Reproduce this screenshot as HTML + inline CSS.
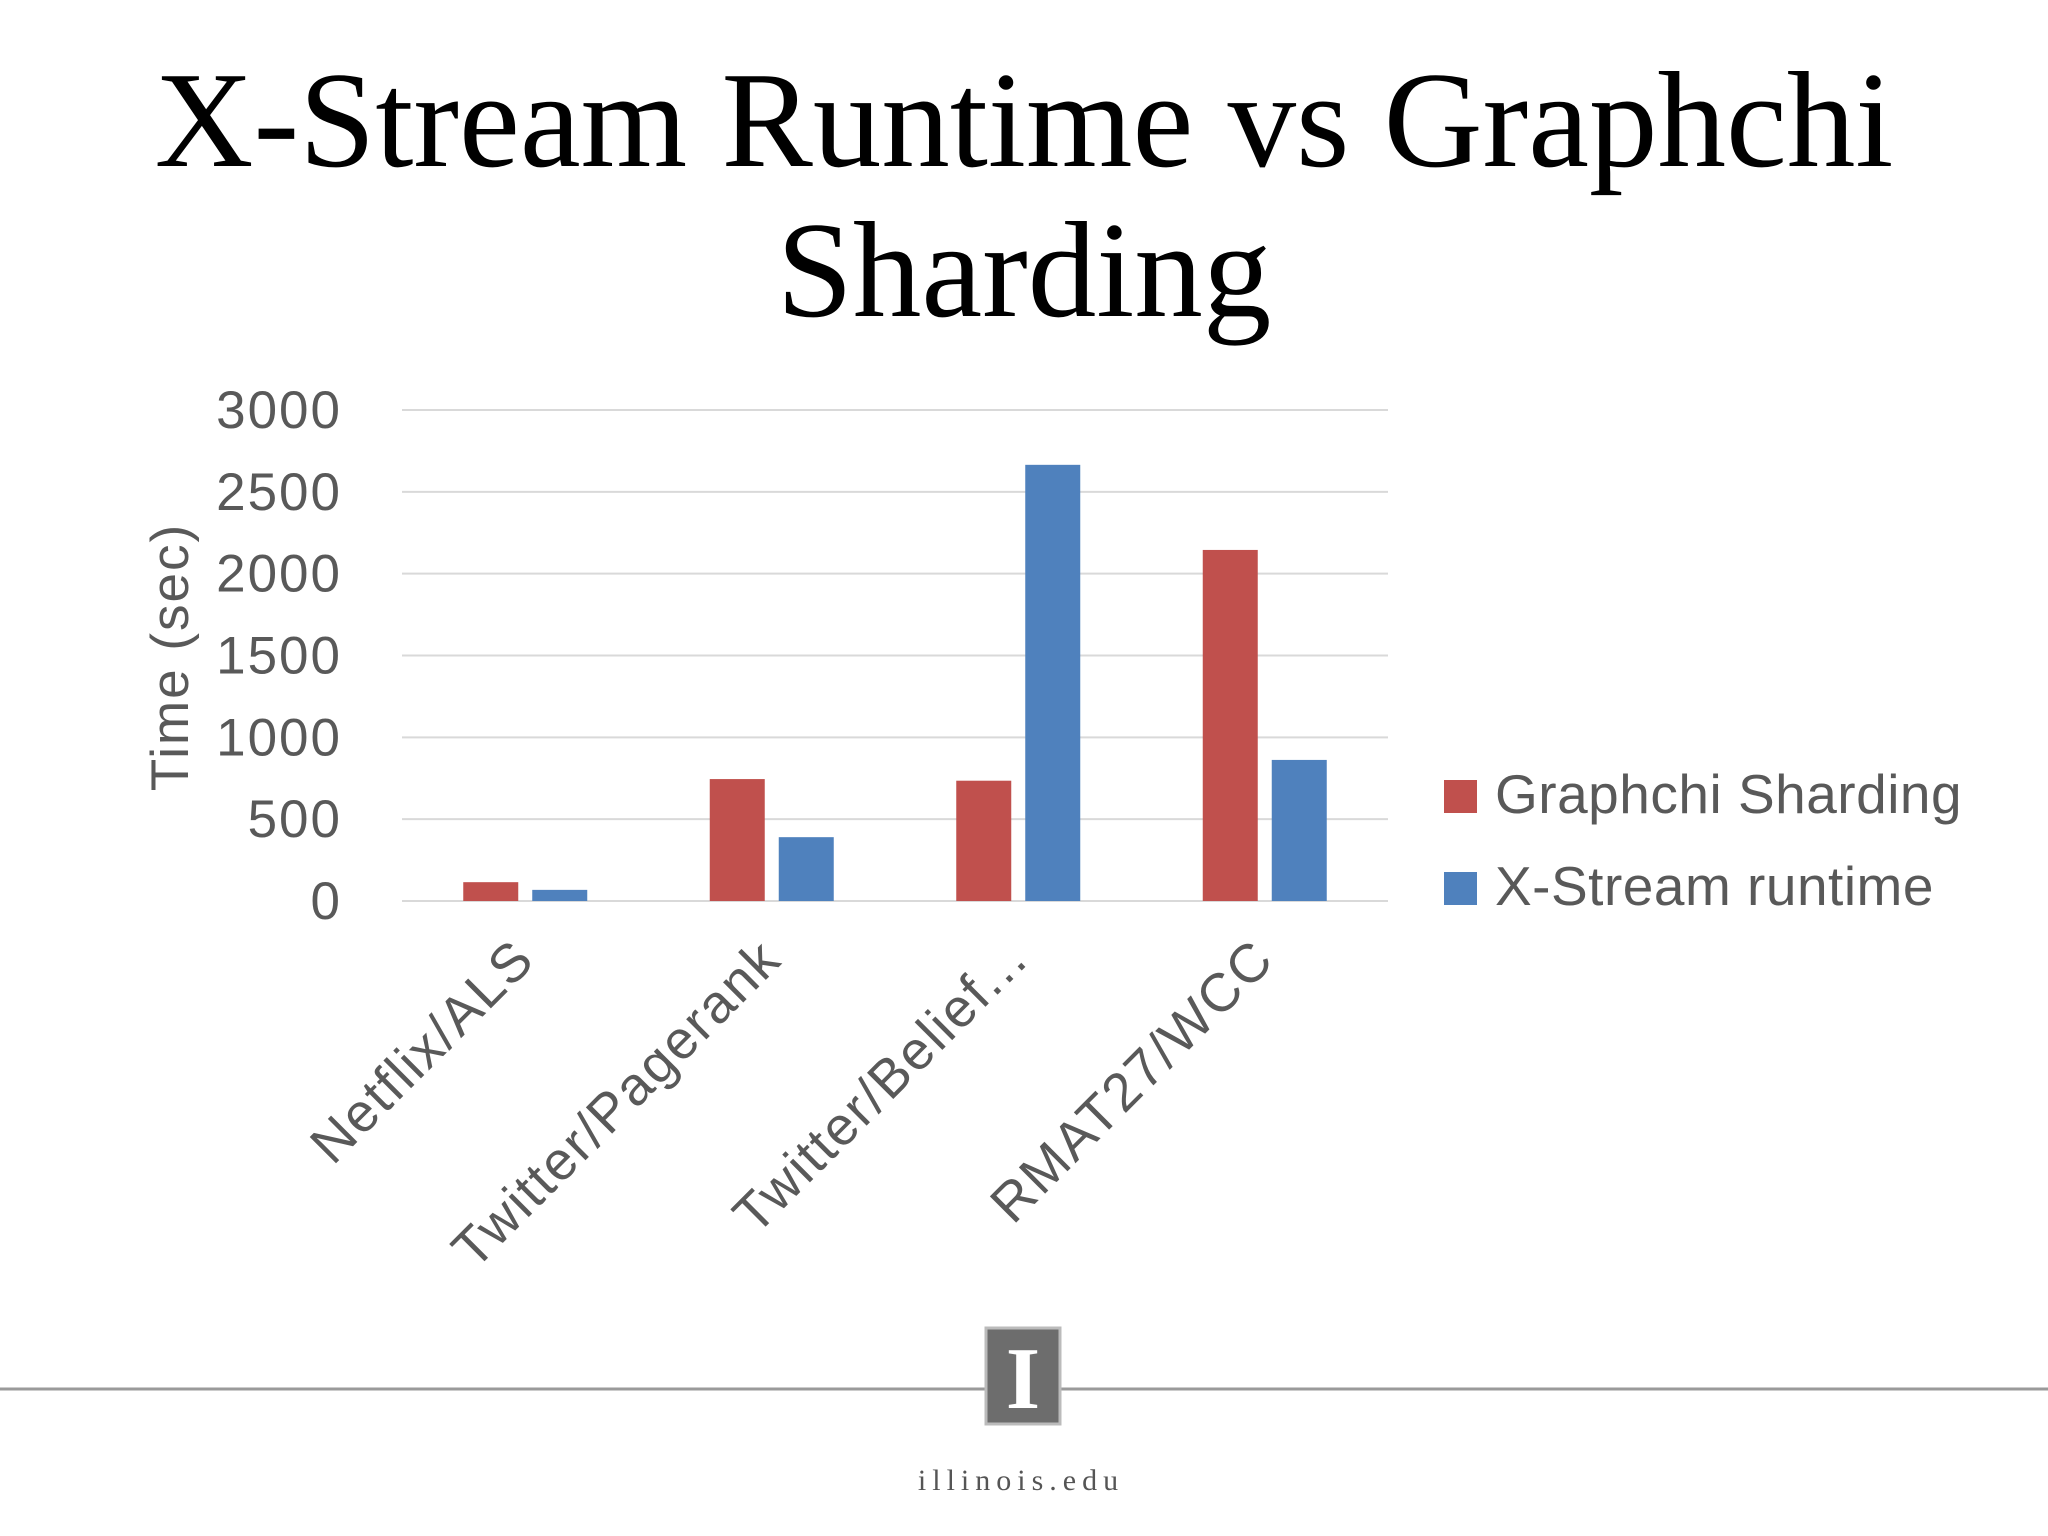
<!DOCTYPE html>
<html><head><meta charset="utf-8"><style>
html,body{margin:0;padding:0;background:#fff;}
#root{position:relative;width:2048px;height:1536px;overflow:hidden;background:#fff;}
.title{position:absolute;left:0;width:2048px;text-align:center;font-family:"Liberation Serif",serif;font-size:137px;color:#000;line-height:1;}
</style></head><body>
<div id="root">
<div class="title" style="top:52px">X-Stream Runtime vs Graphchi</div>
<div class="title" style="top:202px">Sharding</div>
<svg id="chart" width="2048" height="1536" style="position:absolute;left:0;top:0"></svg>
</div>
<script>
const categories=["Netflix/ALS","Twitter/Pagerank","Twitter/Belief...","RMAT27/WCC"];
const graphchi=[115,745,735,2145];
const xstream=[68,390,2665,862];
const ticks=[0,500,1000,1500,2000,2500,3000];
const seriesNames=["Graphchi Sharding","X-Stream runtime"];
const colors=["#c0504d","#4f81bd"];
const NS="http://www.w3.org/2000/svg";
const svg=document.getElementById('chart');
const x0=402,x1=1388,yTop=410,yBot=901,vmax=3000;
const y=v=>yBot-(v/vmax)*(yBot-yTop);
const gw=(x1-x0)/categories.length;
function mk(t,a){const e=document.createElementNS(NS,t);for(const k in a)e.setAttribute(k,a[k]);svg.appendChild(e);return e;}
ticks.forEach((t,i)=>{
 const l=mk('line',{x1:x0,x2:x1,y1:y(t),y2:y(t),stroke:'#d9d9d9','stroke-width':2});
 
 
 const tx=mk('text',{x:342,y:y(t)+18,'text-anchor':'end','font-family':'Liberation Sans, sans-serif','font-size':53,'letter-spacing':'2',fill:'#595959'});
 tx.textContent=t;
 
 
});
const bw=55;
categories.forEach((c,i)=>{
 const cx=x0+gw*(i+0.5);
 [graphchi,xstream].forEach((arr,s)=>{
  const bx=s===0?cx-bw-7:cx+7;
  const r=mk('rect',{x:bx,y:y(arr[i]),width:bw,height:yBot-y(arr[i]),fill:colors[s]});
  
  
 });
 const lx=cx+12,ly=962;
 const t=mk('text',{x:lx,y:ly,'text-anchor':'end','font-family':'Liberation Sans, sans-serif','font-size':54,'letter-spacing':'2',fill:'#595959',transform:`rotate(-45 ${lx} ${ly})`});
 t.textContent=c;
 
 
});
const yt=mk('text',{x:188,y:657,'text-anchor':'middle','font-family':'Liberation Sans, sans-serif','font-size':53,'letter-spacing':'2',fill:'#595959',transform:'rotate(-90 188 657)'});
yt.textContent='Time (sec)';


seriesNames.forEach((n,s)=>{
 const ly=780+s*92;
 const r=mk('rect',{x:1444,y:ly,width:33,height:33,fill:colors[s]});
 
 
 const t=mk('text',{x:1495,y:ly+33,'font-family':'Liberation Sans, sans-serif','font-size':55,'letter-spacing':'0.5',fill:'#595959'});
 t.textContent=n;
 
 
});
const hl=mk('line',{x1:0,x2:2048,y1:1389,y2:1389,stroke:'#9a9a9a','stroke-width':3});


const lg=mk('rect',{x:986,y:1328,width:74,height:96,fill:'#6d6d6d',stroke:'#bbb','stroke-width':3});


const li=mk('text',{x:1023,y:1408,'text-anchor':'middle','font-family':'Liberation Serif, serif','font-size':88,fill:'#fff','font-weight':'bold'});
li.textContent='I';


const ft=mk('text',{x:1021,y:1490,'text-anchor':'middle','font-family':'Liberation Serif, serif','font-size':30,fill:'#555','letter-spacing':'6'});
ft.textContent='illinois.edu';


</script>
</body></html>
